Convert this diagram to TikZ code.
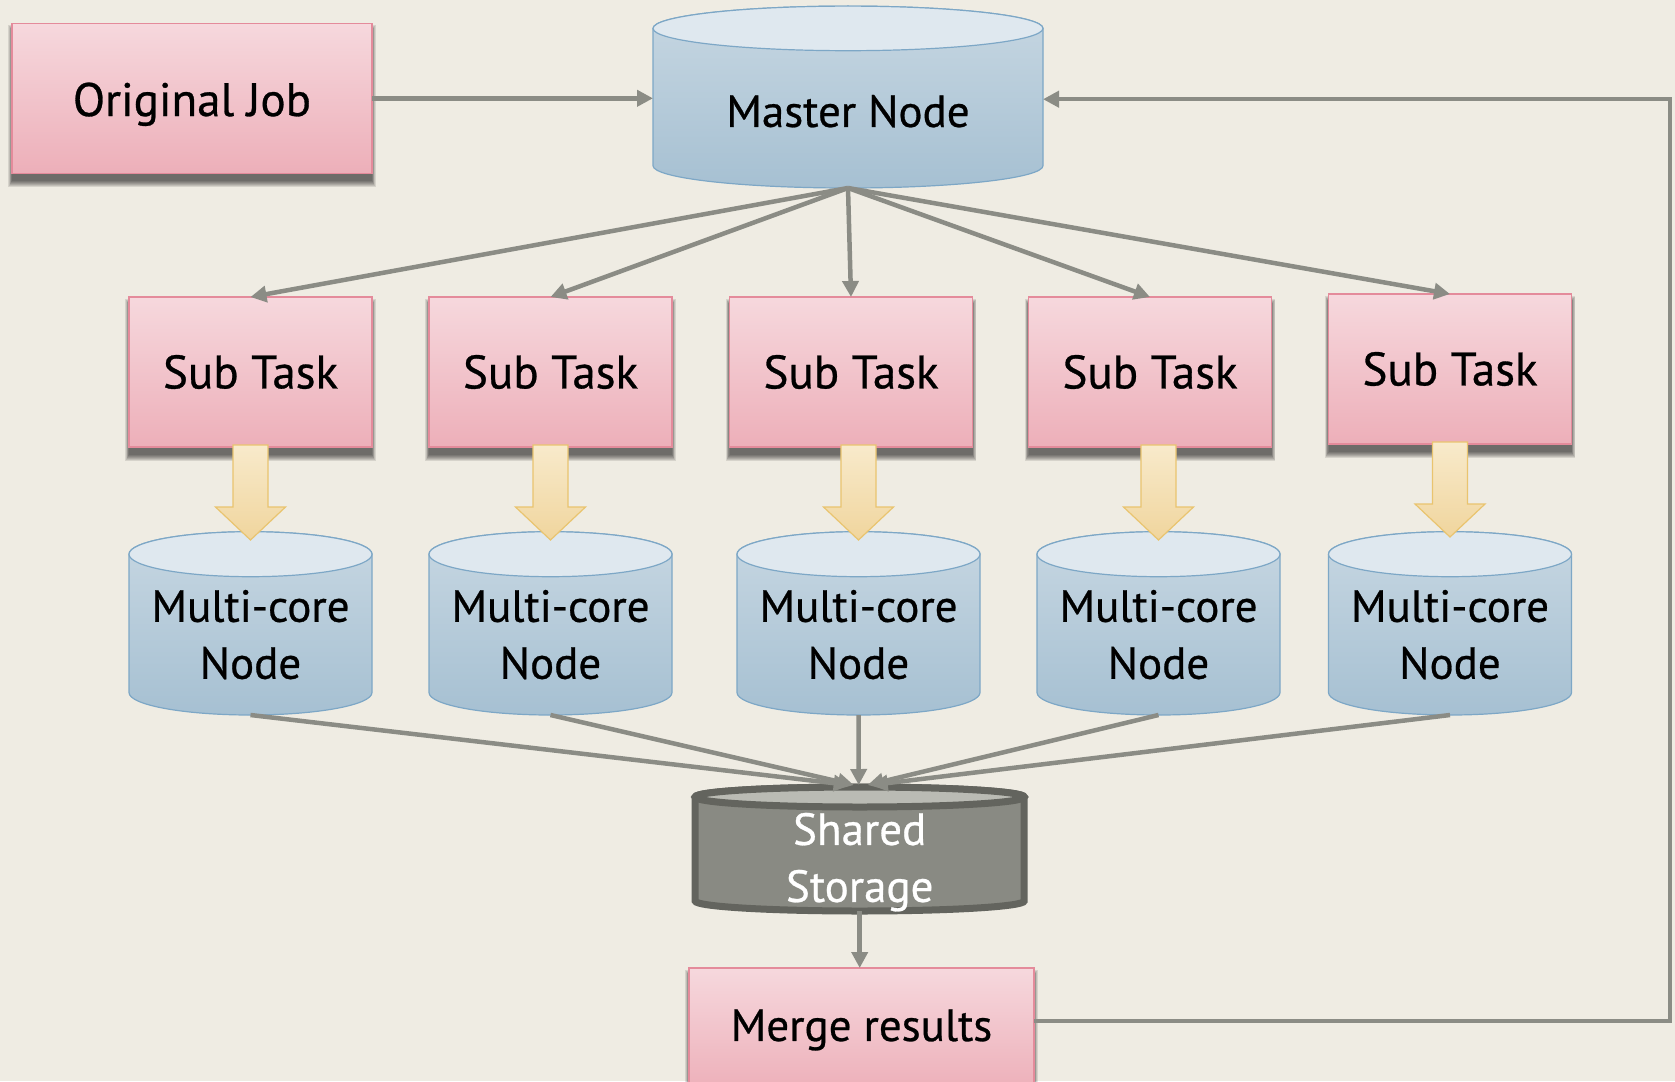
\documentclass[tikz,border=0pt]{standalone}
\usepackage{fontspec}
\setmainfont{PT Sans}[FakeBold=0.6]
\usetikzlibrary{arrows.meta,calc}

\definecolor{bgc}{RGB}{239,236,227}
\definecolor{pinktop}{RGB}{246,216,221}
\definecolor{pinkbot}{RGB}{237,175,185}
\definecolor{pinkline}{RGB}{228,139,155}
\definecolor{bluecap}{RGB}{223,232,239}
\definecolor{bluebodytop}{RGB}{199,215,226}
\definecolor{bluebodybot}{RGB}{166,192,210}
\definecolor{blueline}{RGB}{125,167,198}
\definecolor{conngray}{RGB}{139,140,133}
\definecolor{stline}{RGB}{99,100,94}
\definecolor{stbody}{RGB}{137,138,131}
\definecolor{sttop}{RGB}{186,187,180}
\definecolor{yeltop}{RGB}{248,234,203}
\definecolor{yelbot}{RGB}{240,213,157}
\definecolor{yelline}{RGB}{233,196,111}

\pgfdeclarelayer{back}
\pgfdeclarelayer{shapes}
\pgfsetlayers{back,shapes,main}

% cylinder drawn behind a named node: node, x radius, y radius, body style, cap style
\newcommand\cylshape[5]{%
  \begin{pgfonlayer}{shapes}
    \path[#4] (#1.north west) -- ([yshift=#3pt]#1.south west)
      arc[start angle=180,end angle=360,x radius=#2,y radius=#3]
      -- (#1.north east)
      arc[start angle=0,end angle=180,x radius=#2,y radius=#3] -- cycle;
    \path[#5] (#1.north) ellipse[x radius=#2,y radius=#3];
  \end{pgfonlayer}}

% soft shadow under a box, built from stacked translucent rectangles
\newcommand\softshadow[1]{%
  \begin{pgfonlayer}{shapes}
    \foreach \s in {0,1,...,6}
      {\fill[black, opacity=0.1] ($(#1.north west)+(-0.6*\s,-8+\s)$) rectangle ($(#1.south east)+(0.6*\s,-8-\s)$);}
  \end{pgfonlayer}}

% wide block arrow from a task box down to its worker cylinder
\newcommand\blockarrow[2]{%
  \draw[yarrow] ($(#2.north |- #1.south)+(-17.5,2)$) -- ++(0,-62) -- ++(-17.5,0)
    -- ++(35,-33) -- ++(35,33) -- ++(-17.5,0) -- ++(0,62) -- cycle;}

% lower a label without changing the box it reports
\newcommand\lowered[2]{\raisebox{-#1}[\height][\depth]{#2}}

\begin{document}
\begin{tikzpicture}[x=1pt,y=1pt,
  pinkbox/.style={draw=pinkline, line width=1.2pt, top color=pinktop, bottom color=pinkbot,
    inner sep=0pt, outer sep=0pt, align=center,
    font=\fontsize{45}{57}\selectfont},
  tasktext/.style={minimum width=243pt, minimum height=150pt, font=\fontsize{47}{57}\selectfont},
  cylnode/.style={inner sep=0pt, outer sep=0pt, align=center, font=\fontsize{45}{57}\selectfont},
  bluebody/.style={draw=blueline, line width=1.2pt, top color=bluebodytop, bottom color=bluebodybot},
  bluetop/.style={draw=blueline, line width=1.2pt, fill=bluecap},
  stbodystyle/.style={draw=stline, line width=7pt, fill=stbody},
  sttopstyle/.style={draw=stline, line width=7pt, fill=sttop},
  yarrow/.style={draw=yelline, line width=1.2pt, top color=yeltop, bottom color=yelbot},
  link/.style={draw=conngray, line width=4.5pt, -{Triangle[length=16pt,width=16pt]}},
]
\useasboundingbox (0,0) rectangle (1675,-1081);
\begin{pgfonlayer}{back}
  \fill[bgc] (0,0) rectangle (1675,-1081);
\end{pgfonlayer}

% job, master and merge
\node[pinkbox, minimum width=360pt, minimum height=150pt, font=\fontsize{47}{57}\selectfont] (orig) at (192,-98.3) {\lowered{6pt}{Original Job}};
\softshadow{orig}
\node[cylnode, minimum width=390pt, minimum height=159.6pt] (master) at (848,-108.2) {\lowered{3pt}{Master Node}};
\cylshape{master}{195}{22.3}{bluebody}{bluetop}

% sub tasks and worker nodes
\foreach \i/\x/\y in {1/250.5/-372, 2/550.5/-372, 3/851/-372, 4/1150/-372, 5/1450/-369}
  {\node[pinkbox, tasktext] (s\i) at (\x,\y) {Sub Task}; \softshadow{s\i}}
\foreach \i/\x in {1/250.5, 2/550.5, 3/858.5, 4/1158.5, 5/1450} {
  \node[cylnode, minimum width=243pt, minimum height=160.8pt] (m\i) at (\x,-634.6) {Multi-core\\Node};
  \cylshape{m\i}{121.5}{22.5}{bluebody}{bluetop}
}

% shared storage and merge step
\node[cylnode, text=white, minimum width=329pt, minimum height=101.5pt] (shared) at (859.7,-854)
  {\lowered{8pt}{\begin{tabular}{@{}c@{}}Shared\\Storage\end{tabular}}};
\cylshape{shared}{164.5}{10}{stbodystyle}{sttopstyle}
\node[pinkbox, minimum width=345pt, minimum height=124pt] (merge) at (861.5,-1030) {Merge results};
\softshadow{merge}

% task hand-off arrows
\foreach \i in {1,...,5} {\blockarrow{s\i}{m\i}}

% connectors
\draw[link] (orig.east) -- (orig.east -| master.west);
\foreach \i in {1,...,5} {\draw[link] (master.south) -- (s\i.north);}
\foreach \i/\dx in {1/-10, 2/-6, 3/-1, 4/8, 5/12}
  {\draw[link] (m\i.south) -- ([xshift=\dx pt, yshift=12pt]shared.north);}
\draw[link] (shared.south) -- (shared.south |- merge.north);
\coordinate (corner) at (1670,-1021);
\draw[link] (merge.east |- corner) -- (corner) |- ([yshift=9pt]master.east);
\end{tikzpicture}
\end{document}
